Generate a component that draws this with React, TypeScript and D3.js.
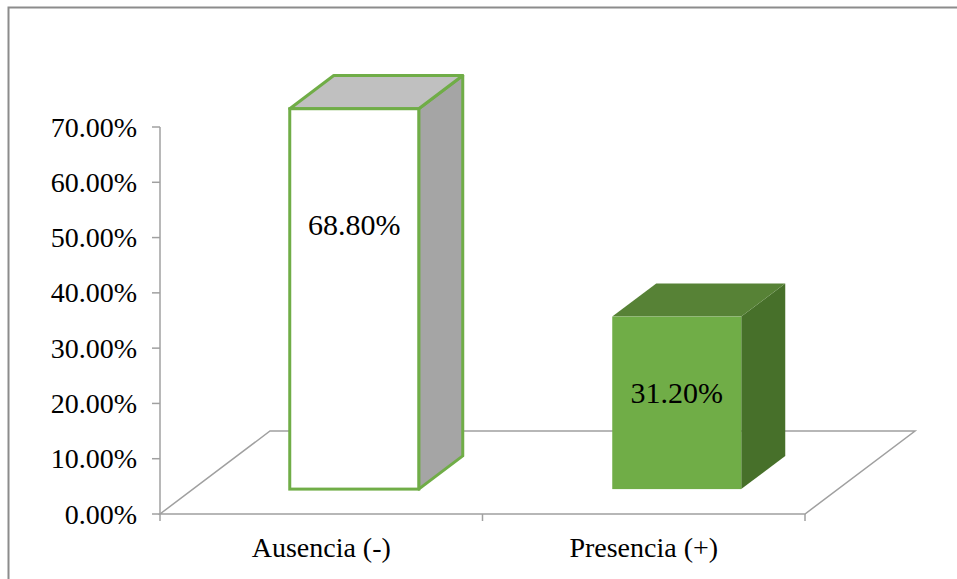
import React from 'react';
import * as d3 from 'd3';

const categories = ['Ausencia (-)', 'Presencia (+)'];
const values = [68.8, 31.2];
const valueLabels = ['68.80%', '31.20%'];
const yTicks = [0, 10, 20, 30, 40, 50, 60, 70];

const W = 957;
const H = 579;
const font = '"Liberation Serif", "Times New Roman", serif';

// floor depth and the bar's share of it (Excel 3D clustered column look)
const depthX = 110;
const depthY = -83;

const barStyles = [
  { front: '#ffffff', top: '#c0c0c0', side: '#a5a5a5', stroke: '#70ad47', sw: 3 },
  { front: '#70ad47', top: '#578236', side: '#47702a', stroke: 'none', sw: 0 },
];

const App = () => {
  const y = d3.scaleLinear().domain([0, 70]).range([514, 127]);
  const x = d3.scaleBand().domain(categories).range([160, 805]).padding(0);

  const x0 = 160;
  const x1 = 805;
  const y0 = y(0);

  const offX = depthX * 0.3;
  const offY = depthY * 0.3;
  const bdX = depthX * 0.4;
  const bdY = depthY * 0.4;
  const bw = x.bandwidth() * 0.4;

  const floor = [
    [x0, y0],
    [x1, y0],
    [x1 + depthX, y0 + depthY],
    [x0 + depthX, y0 + depthY],
  ];

  return (
    <svg width={W} height={H} style={{ position: 'absolute', left: 0, top: 0, background: '#fff' }}>
      <rect x={8.5} y={7.5} width={W + 20} height={H + 20} fill="#fff" stroke="#8c8c8c" strokeWidth={2} />

      {/* floor */}
      <polygon points={floor.map((p) => p.join(',')).join(' ')} fill="none" stroke="#a0a0a0" strokeWidth={1.5} />

      {/* y axis */}
      <line x1={x0} x2={x0} y1={y(70)} y2={y0} stroke="#a0a0a0" strokeWidth={1.5} />
      {yTicks.map((t) => (
        <g key={t}>
          <line x1={x0 - 8} x2={x0} y1={y(t)} y2={y(t)} stroke="#a0a0a0" strokeWidth={1.5} />
          <text x={137} y={y(t)} dy="0.34em" textAnchor="end" fontFamily={font} fontSize={28} fill="#000">
            {t.toFixed(2) + '%'}
          </text>
        </g>
      ))}

      {/* x ticks */}
      {[x0, x0 + x.step(), x1].map((v, i) => (
        <line key={i} x1={v} x2={v} y1={y0} y2={y0 + 7} stroke="#a0a0a0" strokeWidth={1.5} />
      ))}

      {/* bars */}
      {categories.map((c, i) => {
        const cx = x(c)! + x.bandwidth() / 2 + offX;
        const l = cx - bw / 2;
        const r = cx + bw / 2;
        const b = y0 + offY;
        const t = y(values[i]) + offY;
        const s = barStyles[i];
        const top = `${l},${t} ${r},${t} ${r + bdX},${t + bdY} ${l + bdX},${t + bdY}`;
        const side = `${r},${t} ${r + bdX},${t + bdY} ${r + bdX},${b + bdY} ${r},${b}`;
        return (
          <g key={c}>
            <polygon points={side} fill={s.side} stroke={s.stroke} strokeWidth={s.sw} strokeLinejoin="round" />
            <polygon points={top} fill={s.top} stroke={s.stroke} strokeWidth={s.sw} strokeLinejoin="round" />
            <rect x={l} y={t} width={bw} height={b - t} fill={s.front} stroke={s.stroke} strokeWidth={s.sw} />
            <text x={cx} y={i === 0 ? 235 : 403} textAnchor="middle" fontFamily={font} fontSize={30} fill="#000">
              {valueLabels[i]}
            </text>
          </g>
        );
      })}

      {/* category labels */}
      {categories.map((c) => (
        <text key={c} x={x(c)! + x.bandwidth() / 2} y={557} textAnchor="middle" fontFamily={font} fontSize={28} fill="#000">
          {c}
        </text>
      ))}
    </svg>
  );
};

export default App;
